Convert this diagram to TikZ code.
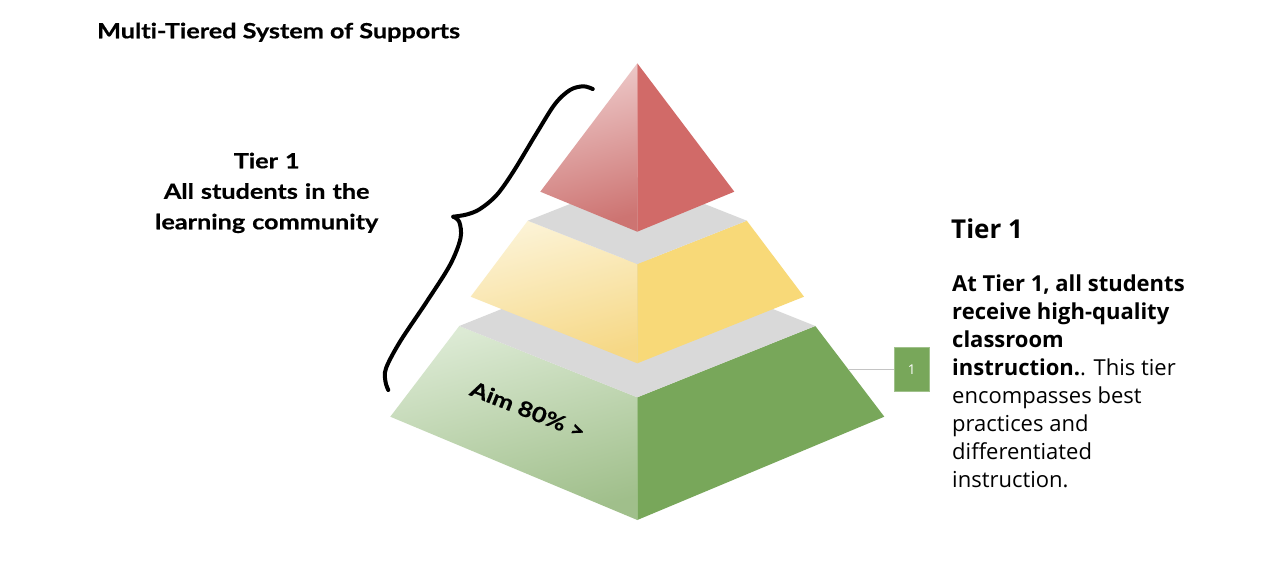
\documentclass[tikz,border=0pt]{standalone}
\usepackage{fontspec}
\setmainfont{Open Sans}
\newfontfamily\lato[FakeStretch=1.2, Ligatures=NoCommon, BoldFeatures={FakeBold=0.6}]{Lato}
\definecolor{redR}{HTML}{D16A68}
\definecolor{redLt}{HTML}{EECBCB}
\definecolor{redLb}{HTML}{CD7472}
\definecolor{yelR}{HTML}{F8D978}
\definecolor{yelLt}{HTML}{FCF3D6}
\definecolor{yelLb}{HTML}{F6D886}
\definecolor{grnR}{HTML}{78A75A}
\definecolor{grnLt}{HTML}{DCEAD4}
\definecolor{grnLb}{HTML}{A0BF8B}
\definecolor{topgray}{HTML}{D9D9D9}
\definecolor{linkgray}{HTML}{C4C4C4}
\tikzset{
  headfont/.style={font=\lato\bfseries\fontsize{21}{30.5}\selectfont},
  bodyline/.style={anchor=base west, inner sep=0, font=\fontsize{22}{28}\selectfont},
  brace/.style={line width=4pt, line cap=round, line join=round},
  numbox/.style={draw=grnR!70!white, line width=0.8pt, fill=grnR, minimum width=35, minimum height=44, inner sep=0, text=white, font=\fontsize{13.5}{15}\selectfont},
  link/.style={draw=linkgray, line width=1pt}
}
\begin{document}
\begin{tikzpicture}[x=1pt,y=-1pt]
\useasboundingbox (0,0) rectangle (1280,585);
\fill[white] (0,0) rectangle (1280,585);
% green tier
\shade[top color=grnLt, bottom color=grnLb, shading angle=15] (459.3,326) -- (637.3,397.3) -- (637.3,520) -- (390.3,416.7) -- cycle;
\fill[grnR] (637.3,397.3) -- (815.3,326) -- (884.3,416.7) -- (637.3,520) -- cycle;
\fill[topgray] (459.3,326) -- (637.3,254.7) -- (815.3,326) -- (637.3,397.3) -- cycle;
% yellow tier
\shade[top color=yelLt, bottom color=yelLb, shading angle=15] (527.8,220.7) -- (637.3,264) -- (637.3,363.3) -- (470.7,296.7) -- cycle;
\fill[yelR] (637.3,264) -- (746.8,220.7) -- (804,296.7) -- (637.3,363.3) -- cycle;
\fill[topgray] (527.8,220.7) -- (637.3,177.4) -- (746.8,220.7) -- (637.3,264) -- cycle;
% red tier
\shade[top color=redLt, bottom color=redLb, shading angle=15] (637.3,63.3) -- (540.3,191.7) -- (637.3,231.7) -- cycle;
\fill[redR] (637.3,63.3) -- (734.3,191.7) -- (637.3,231.7) -- cycle;
% brace
\draw[brace] plot[smooth, tension=0.55] coordinates {(592.7,89) (583.3,86.3) (570,90) (555,104) (536.7,133) (513.3,171.7) (496.7,195) (480,209) (466.7,214.5) (453.3,216.7)};
\draw[brace] plot[smooth, tension=0.55] coordinates {(453.3,216.7) (459.3,222) (460.5,238.3) (450,265) (426.7,301.7) (400,341.7) (386,368.3) (385.5,381.7) (388.3,390)};
% texts
\node[headfont, anchor=base west, inner sep=0] (title) at (97,38.3) {Multi-Tiered System of Supports};
\node[headfont, anchor=base, inner sep=0, text width=300, align=center] (tiertext) at (266.7,168.3) {Tier 1\\All students in the\\learning community};
\node[headfont, rotate=-21.5, inner sep=0] (aim) at (528,410) {Aim 80\% >};
% right panel
\node[anchor=base west, inner sep=0, font=\bfseries\fontsize{26}{30}\selectfont] (head) at (951,238.3) {Tier 1};
\node[bodyline] (l1) at (952,291.7) {\bfseries At Tier 1, all students};
\node[bodyline] (l2) at (952,319.7) {\bfseries receive high-quality};
\node[bodyline] (l3) at (952,347.7) {\bfseries classroom};
\node[bodyline] (l4) at (952,375.7) {{\bfseries instruction.}. This tier};
\node[bodyline] (l5) at (952,403.7) {encompasses best};
\node[bodyline] (l6) at (952,431.7) {practices and};
\node[bodyline] (l7) at (952,459.7) {differentiated};
\node[bodyline] (l8) at (952,487.7) {instruction.};
% number box and link
\node[numbox] (box) at (911.8,369.2) {1};
\coordinate (edge) at (848.3,369.2);
\draw[link] (edge) -- (box.west);
\end{tikzpicture}
\end{document}
